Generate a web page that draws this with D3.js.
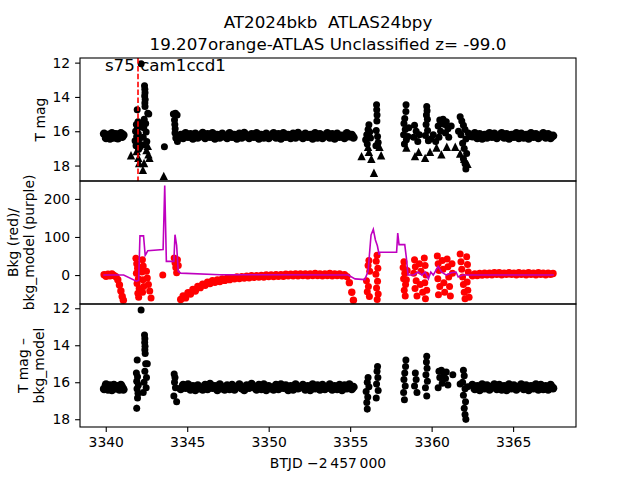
<!DOCTYPE html>
<html>
<head>
<meta charset="utf-8">
<script src="https://cdn.jsdelivr.net/npm/d3@7"></script>
<style>
  body { margin: 0; background: #fff; }
  text { font-family: "DejaVu Sans", sans-serif; white-space: pre; }
</style>
</head>
<body>
<div id="chart"></div>
<script>
// quiet stretches: shared time stamps for all three panels
const bandT = [
  // 3340 stretch
  3339.90, 3340.02, 3340.14, 3340.26, 3340.38, 3340.50, 3340.62, 3340.74, 3340.84, 3340.93, 3341.01, 3341.08,
  // 3345-3355 stretch
  3344.60, 3344.75, 3344.90, 3345.05, 3345.20, 3345.35, 3345.50, 3345.65, 3345.80, 3345.95,
  3346.10, 3346.25, 3346.40, 3346.55, 3346.70, 3346.85, 3347.00, 3347.15, 3347.30, 3347.45,
  3347.60, 3347.75, 3347.90, 3348.05, 3348.20, 3348.35, 3348.50, 3348.65, 3348.80, 3348.95,
  3349.10, 3349.25, 3349.40, 3349.55, 3349.70, 3349.85, 3350.00, 3350.15, 3350.30, 3350.45,
  3350.60, 3350.75, 3350.90, 3351.05, 3351.20, 3351.35, 3351.50, 3351.65, 3351.80, 3351.95,
  3352.10, 3352.25, 3352.40, 3352.55, 3352.70, 3352.85, 3353.00, 3353.15, 3353.30, 3353.45,
  3353.60, 3353.75, 3353.90, 3354.05, 3354.20, 3354.35, 3354.50, 3354.65, 3354.80, 3354.95,
  3355.10, 3355.20,
  // 3363-3367 stretch
  3362.50, 3362.65, 3362.80, 3362.95, 3363.10, 3363.25, 3363.40, 3363.55, 3363.70, 3363.85,
  3364.00, 3364.15, 3364.30, 3364.45, 3364.60, 3364.75, 3364.90, 3365.05, 3365.20, 3365.35,
  3365.50, 3365.65, 3365.80, 3365.95, 3366.10, 3366.25, 3366.40, 3366.55, 3366.70, 3366.85,
  3367.00, 3367.15, 3367.30, 3367.45
];
const bandMag = [
  16.15, 16.39, 16.22, 16.42, 16.12, 16.36, 16.18, 16.40, 16.26, 16.12, 16.32, 16.22,
  16.22, 16.39, 16.12, 16.32, 16.18, 16.42, 16.15, 16.36, 16.26, 16.10,
  16.39, 16.18, 16.32, 16.12, 16.42, 16.22, 16.36, 16.15, 16.29, 16.39,
  16.12, 16.32, 16.22, 16.42, 16.15, 16.36, 16.10, 16.29, 16.39, 16.18,
  16.32, 16.12, 16.42, 16.22, 16.36, 16.15, 16.39, 16.26, 16.12, 16.36,
  16.18, 16.42, 16.12, 16.32, 16.22, 16.39, 16.15, 16.36, 16.10, 16.29,
  16.39, 16.15, 16.32, 16.22, 16.42, 16.12, 16.36, 16.18, 16.39, 16.26,
  16.12, 16.36, 16.18, 16.42, 16.15, 16.32, 16.26, 16.39, 16.12, 16.29,
  16.22, 16.36,
  16.29, 16.12, 16.39, 16.18, 16.42, 16.22, 16.36, 16.12, 16.32, 16.15,
  16.39, 16.26, 16.12, 16.36, 16.18, 16.42, 16.22, 16.32, 16.12, 16.39,
  16.15, 16.36, 16.22, 16.42, 16.12, 16.32, 16.18, 16.39, 16.26, 16.12,
  16.36, 16.18, 16.39, 16.26
];
const bandBkg = [
  1, -3, 2, -2, 3, -1, -4, -12, -26, -42, -56, -66,
  -64, -55, -60, -46, -50, -38, -42, -30, -33, -24,
  -27, -19, -22, -15, -19, -13, -17, -10, -14, -8,
  -12, -7, -10, -5, -9, -4, -8, -3, -7, -2,
  -6, -2, -5, -1, -5, 0, -4, 0, -4, 1,
  -3, 1, -3, 2, -2, 2, -2, 3, -2, 3,
  -1, 3, -2, 3, -1, 4, -1, 3, -2, 3,
  -1, 4, -2, 3, -1, 3, -2, 1, -4, -20,
  -45, -66,
  -2, 3, -1, 4, 0, 5, 1, 5, 1, 6,
  2, 6, 1, 5, 2, 6, 2, 5, 1, 6,
  2, 5, 1, 6, 2, 5, 1, 6, 2, 5,
  1, 5, 2, 4
];
const bandCorr = [
  16.36, 16.12, 16.39, 16.18, 16.42, 16.15, 16.32, 16.22, 16.39, 16.15, 16.29, 16.39,
  16.36, 16.15, 16.29, 16.12, 16.39, 16.22, 16.42, 16.18, 16.32, 16.39,
  16.15, 16.36, 16.10, 16.29, 16.22, 16.42, 16.12, 16.32, 16.39, 16.18,
  16.36, 16.15, 16.39, 16.26, 16.12, 16.32, 16.42, 16.18, 16.29, 16.10,
  16.26, 16.39, 16.15, 16.36, 16.12, 16.42, 16.22, 16.32, 16.39, 16.15,
  16.36, 16.12, 16.29, 16.18, 16.42, 16.22, 16.39, 16.12, 16.32, 16.26,
  16.15, 16.39, 16.22, 16.42, 16.12, 16.32, 16.18, 16.39, 16.15, 16.36,
  16.29, 16.12, 16.39, 16.22, 16.36, 16.15, 16.42, 16.18, 16.32, 16.12,
  16.36, 16.26,
  16.15, 16.36, 16.22, 16.42, 16.12, 16.32, 16.18, 16.39, 16.26, 16.12,
  16.36, 16.15, 16.39, 16.22, 16.42, 16.12, 16.32, 16.18, 16.39, 16.26,
  16.12, 16.36, 16.18, 16.42, 16.22, 16.32, 16.12, 16.39, 16.15, 16.36,
  16.22, 16.39, 16.15, 16.32
];

// disturbed stretches, panel 1 detections
const magT = [
  3341.80, 3341.83, 3341.86, 3341.88, 3341.90, 3341.93, 3341.94, 3341.96, 3341.98, 3342.00,
  3342.02, 3342.04, 3342.06, 3342.08, 3342.10, 3342.17,
  3342.38, 3342.40, 3342.41, 3342.39, 3342.42, 3342.40, 3342.41, 3342.58, 3342.64, 3342.36,
  3342.45, 3342.33, 3342.48, 3342.30, 3342.52, 3342.28,
  3343.60,
  3344.15, 3344.28, 3344.38, 3344.22, 3344.24, 3344.26, 3344.25, 3344.30, 3344.40,
  3355.95, 3356.02, 3356.10, 3356.15, 3356.20, 3356.25, 3356.05,
  3356.62, 3356.63, 3356.65, 3356.64, 3356.60, 3356.68, 3356.72, 3356.58,
  3358.43, 3358.42, 3358.35, 3358.30, 3358.38, 3358.28, 3358.45, 3358.33, 3358.55, 3358.60,
  3358.95, 3359.05, 3358.90, 3359.15, 3359.25,
  3359.70, 3359.72, 3359.68, 3359.74, 3359.66, 3359.75, 3359.62, 3359.80,
  3359.95, 3360.10, 3360.25,
  3360.40, 3360.50, 3360.60, 3360.70, 3360.80, 3360.90, 3361.00, 3360.55, 3360.85, 3360.45,
  3361.05, 3361.20,
  3361.75, 3361.85, 3361.95, 3362.05, 3361.80, 3362.10, 3361.90, 3362.00, 3362.15, 3361.95,
  3362.05, 3362.10, 3362.25, 3362.35, 3361.65
];
const magV = [
  16.55, 16.00, 16.85, 15.60, 16.30, 14.75, 15.85, 16.65, 15.45, 16.15,
  17.05, 15.75, 16.45, 16.95, 15.55, 12.07,
  13.35, 13.55, 13.75, 13.95, 14.15, 14.35, 14.55, 14.95, 15.00, 15.30,
  15.55, 15.80, 16.05, 16.35, 16.60, 16.80,
  16.90,
  15.00, 14.95, 15.05, 15.35, 15.60, 15.85, 16.10, 16.40, 16.60,
  16.50, 16.20, 15.90, 15.62, 16.05, 16.40, 16.75,
  14.45, 14.75, 15.05, 15.40, 15.95, 16.30, 16.65, 16.85,
  14.45, 14.85, 15.25, 15.55, 15.90, 16.20, 16.50, 16.75, 16.30, 15.80,
  15.65, 16.00, 16.35, 16.60, 16.20,
  14.55, 14.80, 15.05, 15.30, 15.60, 15.95, 16.25, 16.55,
  16.45, 16.20, 16.60,
  15.70, 15.35, 15.55, 15.30, 15.60, 15.45, 15.85, 16.00, 16.10, 16.35,
  16.35, 15.70,
  15.15, 15.40, 15.65, 15.90, 16.20, 16.45, 16.70, 17.00, 17.30, 17.60,
  17.90, 18.20, 16.10, 16.30, 16.00
];

// panel 1 upper limits (triangles)
const limT = [
  3341.55, 3341.90, 3342.00, 3342.05, 3342.28, 3342.35, 3342.50, 3342.58, 3342.62, 3342.68, 3343.56,
  3355.70, 3356.10, 3356.15, 3356.30, 3356.80, 3356.90, 3356.46,
  3358.45, 3358.98, 3359.20, 3359.60, 3359.90, 3360.30, 3360.60, 3360.93, 3361.45, 3361.75,
  3362.00, 3362.20
];
const limV = [
  17.40, 17.15, 17.55, 17.85, 18.25, 17.85, 17.10, 16.85, 17.35, 17.55, 18.60,
  17.45, 16.90, 17.20, 17.60, 16.90, 17.40, 18.42,
  16.95, 17.45, 17.20, 17.55, 17.20, 16.95, 17.35, 16.90, 16.90, 17.30,
  17.60, 17.90
];

// panel 2 background, disturbed stretches
const bkgT = [
  3341.85, 3341.90, 3341.95, 3341.88, 3342.00, 3341.92, 3342.05, 3341.97, 3342.02,
  3342.25, 3342.30, 3342.22, 3342.28, 3342.33, 3342.26,
  3342.50, 3342.55, 3342.62, 3342.70, 3342.78,
  3343.50,
  3344.20, 3344.25, 3344.30, 3344.35, 3344.40, 3344.45,
  3356.15, 3356.10, 3356.20, 3356.00, 3356.12, 3356.05, 3356.18,
  3356.65, 3356.60, 3356.70, 3356.58, 3356.68, 3356.62, 3356.72, 3356.66,
  3358.30, 3358.25, 3358.35, 3358.28, 3358.40, 3358.32, 3358.38, 3358.45, 3358.50,
  3358.95, 3359.00, 3358.90, 3359.05, 3358.98, 3359.10, 3359.25, 3359.35, 3359.30, 3359.45,
  3359.55, 3359.60, 3359.65, 3359.58, 3359.70, 3359.62,
  3360.35, 3360.40, 3360.45, 3360.38, 3360.50, 3360.42, 3360.65, 3360.70, 3360.75, 3360.80,
  3360.95, 3361.00, 3361.05, 3361.10, 3361.15, 3361.25, 3361.28,
  3361.75, 3361.80, 3361.85, 3361.90, 3361.95, 3362.00, 3362.05, 3362.15, 3362.20, 3362.25,
  3362.18, 3362.22, 3362.30
];
const bkgV = [
  44, 30, 18, 5, -10, -22, -35, -48, -58,
  40, 24, 8, -12, -30, -45,
  10, -8, -25, -42, -60,
  0,
  45, 32, 20, 6, 40, 25,
  38, 25, 10, -15, -30, -44, -56,
  52, 36, 18, 2, -16, -34, -50, -64,
  35, 20, 5, -10, -25, -40, -55, -12, 12,
  40, 22, 5, -15, -35, -55, 30, 10, -25, -45,
  45, 25, 0, -20, -40, -62,
  50, 30, 12, -10, -30, -52, 38, 15, -20, -45,
  42, 22, -5, -30, -55, 30, 5,
  55, 35, 15, -5, -25, -45, -62, 48, 28, 8,
  -18, -40, -58
];

// bkg_model (purple line)
const modelT = [
  3339.85, 3341.10, 3341.88, 3342.02, 3342.10, 3342.32, 3342.42, 3342.48, 3342.58, 3343.52,
  3343.62, 3343.72, 3344.18, 3344.25, 3344.35, 3344.45, 3344.60, 3347.00, 3354.88, 3355.30,
  3355.90, 3356.10, 3356.28, 3356.42, 3356.55, 3356.67, 3356.78, 3356.82, 3357.85, 3357.92,
  3358.00, 3358.35, 3358.45, 3358.55, 3358.88, 3359.19, 3359.40, 3359.60, 3359.80, 3359.95,
  3360.10, 3360.40, 3360.60, 3360.90, 3361.20, 3361.50, 3361.63, 3361.90, 3367.50
];
const modelV = [
  0, 0, -16, -14, 103, 103, 52, 56, 64, 67,
  235, 36, 36, 106, 78, 10, 5, 1, 0, -10,
  -12, 10, 105, 120, 92, 77, 53, 60, 60, 110,
  80, 80, 45, 0, 0, 8, 0, 8, -10, 8,
  0, 23, 8, 0, 6, 8, -5, 0, 0
];

// panel 3 (T mag - bkg_model), disturbed stretches
const corrT = [
  3342.17, 3341.93, 3341.88, 3341.95, 3341.90, 3342.00, 3341.92, 3341.98, 3341.95, 3341.90,
  3342.38, 3342.40, 3342.39, 3342.41, 3342.40, 3342.42,
  3342.45, 3342.55, 3342.40, 3342.50, 3342.35, 3342.48, 3342.30,
  3344.20, 3344.25, 3344.22, 3344.28, 3344.18, 3344.35,
  3356.10, 3356.05, 3356.15, 3355.98, 3356.08, 3356.02, 3356.05,
  3356.68, 3356.65, 3356.70, 3356.62, 3356.72, 3356.60,
  3358.42, 3358.40, 3358.35, 3358.30, 3358.38, 3358.28, 3358.33,
  3359.00, 3359.05, 3358.95, 3359.10,
  3359.70, 3359.68, 3359.72, 3359.65, 3359.74, 3359.62, 3359.70,
  3360.45, 3360.60, 3360.75, 3360.90, 3360.50, 3360.85, 3360.65, 3361.00, 3360.40, 3361.30,
  3361.95, 3362.00, 3361.90, 3362.05, 3361.95, 3362.08, 3362.00, 3362.05, 3362.10, 3361.75,
  3362.20
];
const corrV = [
  12.10, 14.80, 15.50, 15.70, 15.95, 16.15, 16.35, 16.60, 16.85, 17.40,
  13.45, 13.65, 13.85, 14.05, 14.25, 14.45,
  15.00, 15.00, 15.40, 15.75, 16.00, 16.30, 16.55,
  15.55, 15.75, 16.00, 16.30, 16.75, 17.05,
  15.75, 16.00, 16.25, 16.50, 16.80, 17.10, 17.45,
  15.15, 15.40, 15.75, 16.10, 16.45, 16.85,
  14.80, 15.15, 15.50, 15.85, 16.20, 16.55, 16.95,
  15.50, 15.85, 16.20, 16.55,
  14.60, 14.90, 15.25, 15.60, 15.95, 16.30, 16.75,
  15.40, 15.35, 15.55, 15.45, 15.75, 15.80, 16.05, 16.15, 16.30, 15.60,
  15.35, 15.65, 16.00, 16.35, 16.70, 17.05, 17.40, 17.75, 18.00, 16.10,
  16.25
];
const corrErr = [
  0.03, 0.05, 0.05, 0.05, 0.06, 0.06, 0.07, 0.08, 0.10, 0.18,
  0.03, 0.03, 0.03, 0.03, 0.04, 0.04,
  0.05, 0.05, 0.05, 0.06, 0.06, 0.07, 0.08,
  0.06, 0.06, 0.06, 0.07, 0.12, 0.15,
  0.06, 0.06, 0.07, 0.08, 0.10, 0.12, 0.18,
  0.05, 0.05, 0.06, 0.07, 0.08, 0.10,
  0.05, 0.05, 0.05, 0.06, 0.07, 0.08, 0.12,
  0.05, 0.06, 0.07, 0.08,
  0.04, 0.05, 0.05, 0.05, 0.06, 0.07, 0.10,
  0.05, 0.05, 0.05, 0.05, 0.06, 0.06, 0.06, 0.06, 0.07, 0.05,
  0.05, 0.05, 0.06, 0.07, 0.08, 0.10, 0.12, 0.15, 0.18, 0.06,
  0.07
];

const xTicks = [3340, 3345, 3350, 3355, 3360, 3365];
const magTicks = [12, 14, 16, 18];
const bkgTicks = [0, 100, 200];
const sectorLabel = 's75 cam1ccd1';
const sectorStart = 3341.98;
const titleLines = ['AT2024bkb  ATLAS24bpy', '19.207orange-ATLAS Unclassified z= -99.0'];

const width = 640, height = 480;
const left = 80, right = 576;
const panels = [[58, 181], [181, 304], [304, 427]];
const bandR = 4.3;   // dense quiet stretches read as a solid strip
const dotR = 3.5;
const fontTick = 13.9;

const svg = d3.select('#chart').append('svg')
  .attr('width', width).attr('height', height);

const x = d3.scaleLinear().domain([3338.42, 3368.86]).range([left, right]);
const yMag = d3.scaleLinear().domain([11.73, 18.9]).range([58, 181]);
const yBkg = d3.scaleLinear().domain([-76, 247]).range([304, 181]);
const yCorr = d3.scaleLinear().domain([11.77, 18.42]).range([304, 427]);

const zip = (ts, vs, r, es) => ts.map((t, i) => ({ t, v: vs[i], r, e: es ? es[i] : 0 }));

// clip paths, one per panel
const defs = svg.append('defs');
panels.forEach(([top, bottom], i) => {
  defs.append('clipPath').attr('id', `clip-${i}`)
    .append('rect').attr('x', left).attr('y', top)
    .attr('width', right - left).attr('height', bottom - top);
});
const layer = (i) => svg.append('g').attr('clip-path', `url(#clip-${i})`);

// Panel 1: T mag
const p1 = layer(0);
p1.selectAll('.dot')
  .data(zip(bandT, bandMag, bandR).concat(zip(magT, magV, dotR)))
  .enter().append('circle')
  .attr('cx', (d) => x(d.t)).attr('cy', (d) => yMag(d.v))
  .attr('r', (d) => d.r).attr('fill', 'black');
const tri = 4.2;
p1.selectAll('.lim')
  .data(zip(limT, limV, tri))
  .enter().append('path')
  .attr('d', (d) => {
    const cx = x(d.t), cy = yMag(d.v);
    return `M${cx},${cy - tri}L${cx + tri},${cy + tri}L${cx - tri},${cy + tri}Z`;
  })
  .attr('fill', 'black');
p1.append('line')
  .attr('x1', x(sectorStart)).attr('x2', x(sectorStart))
  .attr('y1', panels[0][0]).attr('y2', panels[0][1])
  .attr('stroke', 'red').attr('stroke-width', 1.6)
  .attr('stroke-dasharray', '5.5,2.4');

// Panel 2: background
const p2 = layer(1);
p2.selectAll('.bkg')
  .data(zip(bandT, bandBkg, 3.7).concat(zip(bkgT, bkgV, dotR)))
  .enter().append('circle')
  .attr('cx', (d) => x(d.t)).attr('cy', (d) => yBkg(d.v))
  .attr('r', (d) => d.r).attr('fill', 'red');
p2.append('path')
  .datum(zip(modelT, modelV, 0))
  .attr('fill', 'none').attr('stroke', '#bf00bf').attr('stroke-width', 1.6)
  .attr('d', d3.line().x((d) => x(d.t)).y((d) => yBkg(d.v)));

// Panel 3: T mag - bkg_model
const p3 = layer(2);
const corrPts = zip(bandT, bandCorr, bandR).concat(zip(corrT, corrV, dotR, corrErr));
p3.selectAll('.err')
  .data(corrPts.filter((d) => d.e > 0))
  .enter().append('line')
  .attr('x1', (d) => x(d.t)).attr('x2', (d) => x(d.t))
  .attr('y1', (d) => yCorr(d.v - d.e)).attr('y2', (d) => yCorr(d.v + d.e))
  .attr('stroke', 'black').attr('stroke-width', 1.5);
p3.selectAll('.dot')
  .data(corrPts)
  .enter().append('circle')
  .attr('cx', (d) => x(d.t)).attr('cy', (d) => yCorr(d.v))
  .attr('r', (d) => d.r).attr('fill', 'black');

// sector label
svg.append('text')
  .attr('x', x(3339.95)).attr('y', yMag(12.47))
  .attr('font-size', 16.7)
  .text(sectorLabel);

// frames
panels.forEach(([top, bottom]) => {
  svg.append('rect')
    .attr('x', left).attr('y', top)
    .attr('width', right - left).attr('height', bottom - top)
    .attr('fill', 'none').attr('stroke', 'black').attr('stroke-width', 1.1);
});

// axes
const styleAxis = (g) => {
  g.select('.domain').remove();
  g.selectAll('.tick line').attr('stroke-width', 1.1);
  g.selectAll('.tick text').attr('font-size', fontTick)
    .attr('font-family', '"DejaVu Sans", sans-serif').attr('fill', 'black');
};
[[yMag, magTicks], [yBkg, bkgTicks], [yCorr, magTicks]].forEach(([scale, ticks]) => {
  svg.append('g')
    .attr('transform', `translate(${left},0)`)
    .call(d3.axisLeft(scale).tickValues(ticks).tickSize(4.9).tickPadding(4.9).tickFormat(d3.format('d')))
    .call(styleAxis);
});
svg.append('g')
  .attr('transform', `translate(0,${panels[2][1]})`)
  .call(d3.axisBottom(x).tickValues(xTicks).tickSize(4.9).tickPadding(4.9).tickFormat(d3.format('d')))
  .call(styleAxis);

// axis labels
const yLabel = (lines, baselines, cy) => {
  lines.forEach((txt, i) => {
    svg.append('text')
      .attr('transform', `translate(${baselines[i]},${cy}) rotate(-90)`)
      .attr('text-anchor', 'middle').attr('font-size', fontTick)
      .text(txt);
  });
};
yLabel(['T mag'], [45], (panels[0][0] + panels[0][1]) / 2);
yLabel(['Bkg (red)/', 'bkg_model (purple)'], [17.5, 34], (panels[1][0] + panels[1][1]) / 2);
yLabel(['T mag \u2013', 'bkg_model'], [27.5, 44], (panels[2][0] + panels[2][1]) / 2);

svg.append('text')
  .attr('x', (left + right) / 2).attr('y', 468)
  .attr('text-anchor', 'middle').attr('font-size', fontTick)
  .text('BTJD \u22122\u2009457\u2009000');

// title
titleLines.forEach((txt, i) => {
  svg.append('text')
    .attr('x', (left + right) / 2).attr('y', 27.5 + i * 22)
    .attr('text-anchor', 'middle').attr('font-size', 16.7)
    .text(txt);
});
</script>
</body>
</html>
